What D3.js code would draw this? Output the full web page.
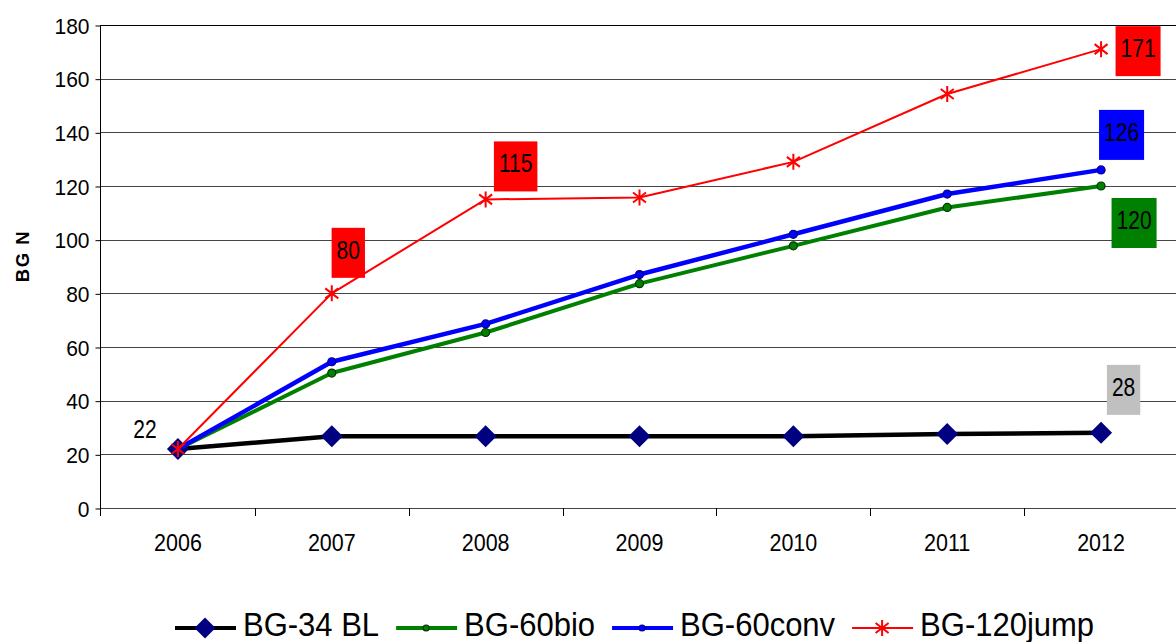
<!DOCTYPE html>
<html>
<head>
<meta charset="utf-8">
<script src="https://cdn.jsdelivr.net/npm/d3@7"></script>
<style>
  html, body { margin: 0; padding: 0; background: #fff; }
  svg { display: block; font-family: "Liberation Sans", Arial, sans-serif; }
</style>
</head>
<body>
<svg id="chart" width="1176" height="642"></svg>
<script>
// Categories and series values
const years = ["2006", "2007", "2008", "2009", "2010", "2011", "2012"];
const bgBL = [22, 26.7, 26.7, 26.7, 26.7, 27.6, 28];
const bgBio = [22, 50.3, 65.4, 83.6, 97.7, 112, 120];
const bgConv = [22, 54.5, 68.6, 87, 102, 117, 126];
const bgJump = [22, 80, 115, 115.7, 129, 154.3, 171];
const yTicks = [0, 20, 40, 60, 80, 100, 120, 140, 160, 180];
const seriesNames = ["BG-34 BL", "BG-60bio", "BG-60conv", "BG-120jump"];
const axisTitle = "BG N";

const svg = d3.select("#chart");
const W = 1176, H = 642;
const plot = { left: 100, right: 1178, top: 25, bottom: 508 };

const x = d3.scaleBand().domain(years).range([plot.left + 1, plot.right]).paddingInner(0).paddingOuter(0);
const cx = d => x(d) + x.bandwidth() / 2;
const y = d3.scaleLinear().domain([0, 180]).range([plot.bottom, plot.top]);

// stretched text helper (the lettering is slightly tall)
function label(parent, tx, ty, str, opts) {
  const g = parent.append("g").attr("transform", `translate(${tx},${ty})`);
  const t = g.append("text")
    .attr("transform", `scale(1,${opts.sy || 1.1})`)
    .attr("text-anchor", opts.anchor || "middle")
    .attr("dominant-baseline", opts.baseline || "central")
    .attr("font-size", opts.size)
    .attr("font-weight", opts.weight || "normal")
    .attr("fill", "#000")
    .text(str);
  return t;
}

// gridlines
svg.append("g").selectAll("line").data(yTicks).join("line")
  .attr("x1", plot.left).attr("x2", W)
  .attr("y1", d => Math.round(y(d)) + 0.5).attr("y2", d => Math.round(y(d)) + 0.5)
  .attr("stroke", d => d === 180 ? "#000" : "#444").attr("stroke-width", 1);

// y axis
const yAxis = svg.append("g").attr("transform", `translate(${plot.left + 0.5},0.5)`)
  .call(d3.axisLeft(y).tickValues(yTicks).tickSize(5).tickSizeOuter(0).tickFormat(d3.format("d")));
yAxis.select(".domain").remove();
yAxis.selectAll(".tick line").attr("stroke", "#000");
yAxis.selectAll(".tick text").remove();
yAxis.selectAll(".tick").each(function (d) {
  label(d3.select(this), -11, 0, String(d), { size: 21, anchor: "end", sy: 1.08 });
});
svg.append("line")
  .attr("x1", plot.left + 0.5).attr("x2", plot.left + 0.5)
  .attr("y1", plot.top).attr("y2", plot.bottom + 8)
  .attr("stroke", "#000");

// x axis: labels at band centres, ticks at band boundaries
const xAxis = svg.append("g").attr("transform", `translate(0,${Math.round(plot.bottom) + 0.5})`)
  .call(d3.axisBottom(x).tickSize(0).tickSizeOuter(0));
xAxis.select(".domain").remove();
xAxis.selectAll(".tick text").remove();
xAxis.selectAll(".tick").each(function (d) {
  label(d3.select(this), 0, 34, d, { size: 21.5, sy: 1.12 });
});
svg.append("g").selectAll("line").data(years.slice(1)).join("line")
  .attr("x1", d => Math.round(x(d)) + 0.5).attr("x2", d => Math.round(x(d)) + 0.5)
  .attr("y1", plot.bottom).attr("y2", plot.bottom + 8)
  .attr("stroke", "#000");

// axis title
svg.append("text")
  .attr("transform", "translate(29,256) rotate(-90)")
  .attr("text-anchor", "middle")
  .attr("font-size", 18.5).attr("font-weight", "bold")
  .attr("letter-spacing", 1.5)
  .text(axisTitle);

// series definitions
const series = [
  { name: seriesNames[0], values: bgBL, color: "#000000", width: 4.5, marker: "diamond" },
  { name: seriesNames[1], values: bgBio, color: "#008000", width: 4, marker: "dotGreen" },
  { name: seriesNames[2], values: bgConv, color: "#0000ff", width: 4.5, marker: "dotBlue" },
  { name: seriesNames[3], values: bgJump, color: "#ff0000", width: 2, marker: "star" }
];

function drawMarker(g, kind, px, py, legend) {
  if (kind === "diamond") {
    const r = legend ? 10.5 : 11;
    g.append("path")
      .attr("d", `M${px},${py - r}L${px + r},${py}L${px},${py + r}L${px - r},${py}Z`)
      .attr("fill", "#000080");
  } else if (kind === "dotGreen") {
    g.append("circle").attr("cx", px).attr("cy", py).attr("r", legend ? 3 : 4)
      .attr("fill", "#008000").attr("stroke", "#003300").attr("stroke-width", 1.2);
  } else if (kind === "dotBlue") {
    g.append("circle").attr("cx", px).attr("cy", py).attr("r", legend ? 3 : 4)
      .attr("fill", "#0000ff").attr("stroke", "#000080").attr("stroke-width", 1.2);
  } else if (kind === "star") {
    const h = 8, dx = 6.5, dy = 5;
    g.append("path")
      .attr("d", `M${px},${py - h}L${px},${py + h}M${px - dx},${py - dy}L${px + dx},${py + dy}M${px - dx},${py + dy}L${px + dx},${py - dy}`)
      .attr("stroke", "#ff0000").attr("stroke-width", 2).attr("fill", "none");
  }
}

const line = d3.line().x((d, i) => cx(years[i])).y(d => y(d));
series.forEach(s => {
  const g = svg.append("g");
  g.append("path").datum(s.values)
    .attr("d", line)
    .attr("fill", "none")
    .attr("stroke", s.color)
    .attr("stroke-width", s.width)
    .attr("stroke-linejoin", "round");
  s.values.forEach((v, i) => drawMarker(g, s.marker, cx(years[i]), y(v), false));
});

// data labels (offsets of label centres from their point)
const dataLabels = [
  { s: 0, i: 0, dx: -33, dy: -17, fill: null },
  { s: 3, i: 1, dx: 16.5, dy: -40.5, fill: "#ff0000" },
  { s: 3, i: 2, dx: 30, dy: -33, fill: "#ff0000" },
  { s: 3, i: 6, dx: 37, dy: 2, fill: "#ff0000" },
  { s: 2, i: 6, dx: 20.5, dy: -35, fill: "#0000ff" },
  { s: 1, i: 6, dx: 33, dy: 37, fill: "#008000" },
  { s: 0, i: 6, dx: 22.5, dy: -43, fill: "#c0c0c0" }
];
const lblG = svg.append("g");
dataLabels.forEach(d => {
  const v = series[d.s].values[d.i];
  const px = cx(years[d.i]) + d.dx, py = y(v) + d.dy;
  const rect = d.fill ? lblG.append("rect").attr("fill", d.fill) : null;
  const t = label(lblG, px, py - 3, d3.format("d")(Math.round(v)), { size: 21, sy: 1.2 });
  if (rect) {
    const w = t.node().getComputedTextLength() + 10;
    rect.attr("x", px - w / 2).attr("y", py - 25).attr("width", w).attr("height", 50);
  }
});

// legend
const legG = svg.append("g");
let lx = 175;
const ly = 628;
series.forEach(s => {
  legG.append("line")
    .attr("x1", lx).attr("x2", lx + 61)
    .attr("y1", ly).attr("y2", ly)
    .attr("stroke", s.color).attr("stroke-width", s.width === 2 ? 2 : 4);
  drawMarker(legG, s.marker, lx + 30, ly, true);
  const t = label(legG, lx + 68, 636, s.name, { size: 31, anchor: "start", sy: 1.06, baseline: "alphabetic" });
  lx = lx + 68 + t.node().getComputedTextLength() + 17;
});
</script>
</body>
</html>
